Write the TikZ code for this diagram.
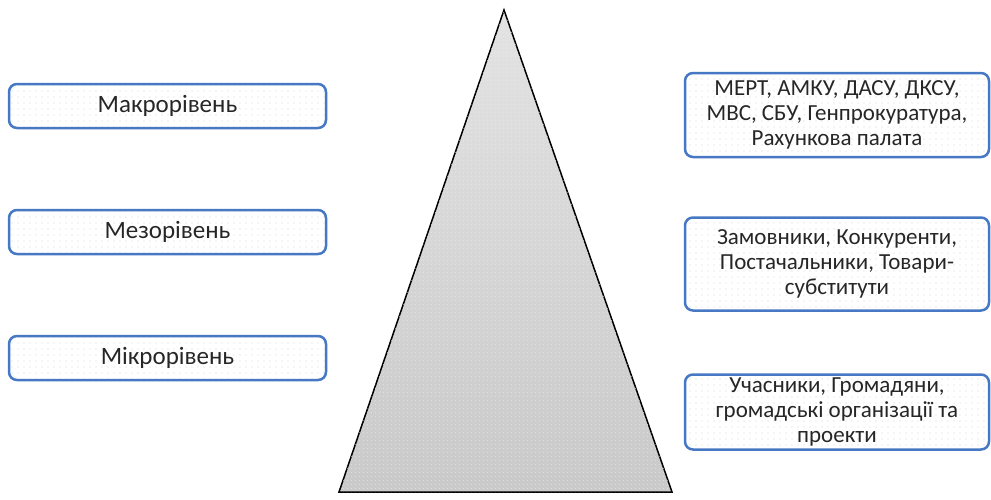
\documentclass[tikz,border=0pt]{standalone}
\usepackage{fontspec}
\setmainfont{Carlito}
\usetikzlibrary{patterns.meta}
\definecolor{boxblue}{RGB}{70,120,195}
\tikzset{
	level/.style={rectangle, rounded corners=8pt, draw=boxblue, line width=2.5pt, minimum width=317pt, minimum height=44pt, pattern={Dots[distance=6pt, radius=0.6pt]}, pattern color=gray!35, text=black!85, font=\fontsize{25}{25}\selectfont},
	actors/.style={level, minimum width=304pt, align=center, font=\fontsize{23}{25}\selectfont}
}
\begin{document}
\begin{tikzpicture}[x=1pt, y=-1pt, node distance=126pt]
		\useasboundingbox (0,0) rectangle (991,499);

		\coordinate(apex) at (504,10);
		\coordinate(base-l) at (339,492);
		\coordinate(base-r) at (672,492);
		\draw[line width=1.5pt, top color=gray!22, bottom color=gray!42, postaction={pattern={Dots[distance=4pt, radius=0.5pt]}, pattern color=gray!15}] (apex) -- (base-r) -- (base-l) -- cycle;

		\node(level-1)[level] at (167.5,106) {Макрорівень};
		\node(level-2)[level, below of=level-1] {Мезорівень};
		\node(level-3)[level, below of=level-2] {Мікрорівень};

		\node(actors-1)[actors, minimum height=84pt] at (837,115) {МЕРТ, АМКУ, ДАСУ, ДКСУ,\\ МВС, СБУ, Генпрокуратура,\\ Рахункова палата};
		\node(actors-2)[actors, minimum height=93pt, below of=actors-1, node distance=149pt] {Замовники, Конкуренти,\\ Постачальники, Товари-\\ субститути};
		\node(actors-3)[actors, minimum height=75pt, inner ysep=0pt, below of=actors-2, node distance=148pt] {Учасники, Громадяни,\\ громадські організації та\\ проекти};
	\end{tikzpicture}
\end{document}
